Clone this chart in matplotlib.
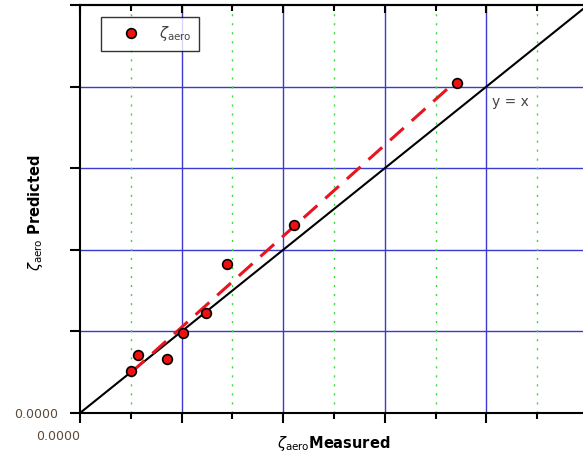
import numpy as np
import matplotlib
matplotlib.use("Agg")
import matplotlib.pyplot as plt
from matplotlib.ticker import MultipleLocator

# Data
measured = [0.50, 0.57, 0.86, 1.01, 1.24, 1.45, 2.11, 3.71]
predicted = [0.51, 0.71, 0.66, 0.98, 1.22, 1.83, 2.30, 4.05]
identity = [0.0, 5.0]
tick_label = "0.0000"

fig = plt.figure(figsize=(5.83, 4.58), dpi=100)
ax = fig.add_axes([80/583, 45/458, 508/583, 408/458])
ax.set_xlim(0, 5)
ax.set_ylim(0, 5)

# grid
ax.xaxis.set_major_locator(MultipleLocator(1))
ax.xaxis.set_minor_locator(MultipleLocator(0.5))
ax.yaxis.set_major_locator(MultipleLocator(1))
for v in [1, 2, 3, 4]:
    ax.axvline(v, color='#3a3ad0', lw=1.0, zorder=0)
    ax.axhline(v, color='#3a3ad0', lw=1.0, zorder=0)
for v in [0.5, 1.5, 2.5, 3.5, 4.5]:
    ax.axvline(v, color='#33dd33', lw=1.0, ls=(0, (1.5, 5)), zorder=0)

# y = x line
ax.plot(identity, identity, color='black', lw=1.5, zorder=2)

# fit line
m, b = np.polyfit(measured, predicted, 1)
xf = np.array([min(measured), max(measured)])
ax.plot(xf, m*xf + b, color='#e8141e', lw=2.2, ls=(0, (6, 3.5)), zorder=3)

# points
ax.plot(measured, predicted, 'o', color='#ee1111', mec='black', mew=1.2,
        ms=7, zorder=4, label=r'$\zeta_{\mathrm{aero}}$', clip_on=False)

ax.text(4.06, 3.72, 'y = x', color='#444444', fontsize=10, ha='left', va='bottom')

# spines
for s in ['left', 'bottom', 'top']:
    ax.spines[s].set_linewidth(1.5)
    ax.spines[s].set_color('black')
ax.spines['right'].set_visible(False)

ax.set_xticks([0, 1, 2, 3, 4, 5])
ax.set_xticklabels([tick_label, '', '', '', '', ''])
ax.set_yticks([0, 1, 2, 3, 4, 5])
ax.set_yticklabels([tick_label, '', '', '', '', ''])
ax.tick_params(axis='x', which='major', direction='out', length=7, width=1.5,
               colors='black', labelcolor='#5c4b3b', labelsize=9, pad=5)
ax.tick_params(axis='x', which='minor', direction='out', length=4, width=1.5)
ax.tick_params(axis='y', which='major', direction='out', length=7, width=1.5,
               colors='black', labelcolor='#5c4b3b', labelsize=9, pad=9)
for lbl in ax.get_xticklabels():
    lbl.set_horizontalalignment('right')

sec = ax.secondary_xaxis('top')
sec.xaxis.set_major_locator(MultipleLocator(1))
sec.xaxis.set_minor_locator(MultipleLocator(0.5))
sec.tick_params(which='major', direction='in', length=6, width=1.5, labeltop=False)
sec.tick_params(which='minor', direction='in', length=4, width=1.5)
sec.spines['top'].set_linewidth(1.5)

ax.set_xlabel(r'$\zeta_{\mathrm{aero}}$Measured', fontsize=10.5, fontweight='bold')
ax.xaxis.set_label_coords(0.5, -0.052)
ax.set_ylabel(r'$\zeta_{\mathrm{aero}}$ Predicted', fontsize=10.5, fontweight='bold')
ax.yaxis.set_label_coords(-0.068, 0.49)

leg = ax.legend(loc='upper left', bbox_to_anchor=(21/508, 1 - 12/408), frameon=True,
                fancybox=False, edgecolor='black', fontsize=10.5, handletextpad=0.4,
                handlelength=3.1, borderpad=0.5, borderaxespad=0.0, markerscale=1.0)
leg.get_frame().set_linewidth(1.0)
for t in leg.get_texts():
    t.set_color('#444444')

fig.savefig('out.png', dpi=100)
